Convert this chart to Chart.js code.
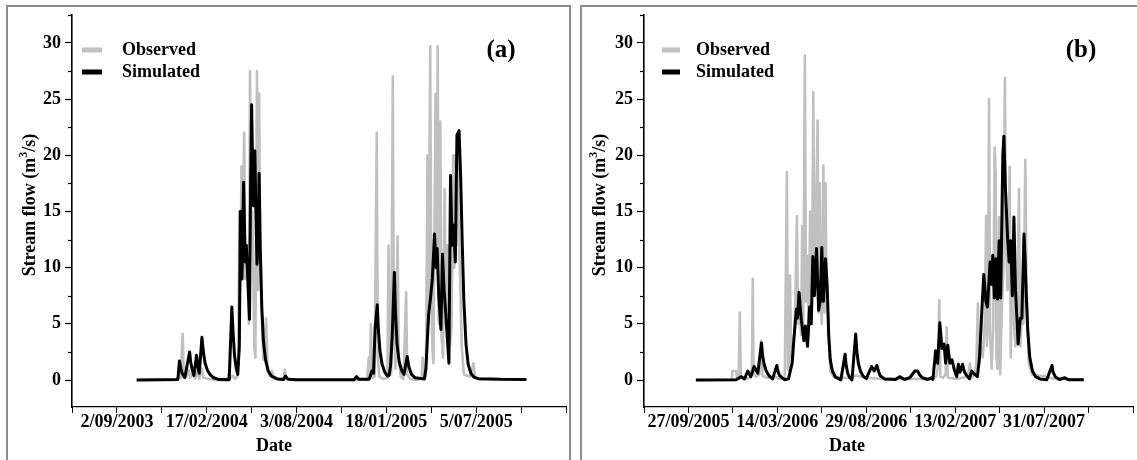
<!DOCTYPE html>
<html><head><meta charset="utf-8">
<script src="https://cdn.jsdelivr.net/npm/chart.js@4.4.0/dist/chart.umd.min.js"></script>
<style>
html,body{margin:0;padding:0;background:#fff;width:1137px;height:460px;overflow:hidden}
.wrap{position:absolute}
.frame{position:absolute;border:2px solid #8c8c8c;pointer-events:none}
</style></head><body>
<div class="wrap" style="left:0;top:0;width:570px;height:460px"><canvas id="ca"></canvas></div>
<div class="wrap" style="left:578px;top:0;width:559px;height:460px"><canvas id="cb"></canvas></div>
<div class="frame" style="left:6px;top:5px;width:561px;height:480px"></div>
<div class="frame" style="left:580px;top:5px;width:600px;height:480px"></div>
<script>
// x = days since axis start (panel a: 10/06/2003, panel b: 5/07/2005), y = stream flow (m3/s)
const tickDays = [84, 252, 420, 588, 756];
const tickLabelsA = ['2/09/2003', '17/02/2004', '3/08/2004', '18/01/2005', '5/07/2005'];
const tickLabelsB = ['27/09/2005', '14/03/2006', '29/08/2006', '13/02/2007', '31/07/2007'];
const yTicks = [0, 5, 10, 15, 20, 25, 30];
const seriesNames = ['Observed', 'Simulated'];

const obsA = [[121,0],[196,0],[199,0.3],[203,0.2],[207,4.1],[209,0.5],[214,0.3],[218,0.9],[221,0.2],[226,0.6],[230,0.1],[234,0.8],[238,0.1],[243,1.0],[246,0.2],[255,0.1],[270,0],[290,0],[293,0.5],[297,0.2],[301,0.4],[305,0.1],[309,0.3],[311,1.0],[313,15],[315,8],[317,19],[319,10],[322,22],[324,9],[327,12],[329,8],[331,5],[333,27.5],[335,14],[337,15],[339,10],[341,3],[343,2],[346,27.5],[348,8],[350,25.5],[352,12],[355,6],[358,1.8],[363,5.5],[366,1.0],[370,0.4],[374,0.8],[378,0.1],[396,0.1],[398,0.9],[401,0.1],[410,0],[552,0],[555,2.0],[557,0.1],[559,5.0],[562,0.2],[566,0.3],[570,22],[572,2],[575,0.3],[582,0.1],[590,0.2],[592,12],[594,3],[597,0.5],[600,27],[602,5],[605,1],[609,12.8],[611,2],[615,0.3],[620,0.1],[625,7.8],[627,0.5],[632,0.1],[645,0],[654,0.2],[656,2],[658,0.2],[662,0.3],[665,20],[667,5],[670,29.7],[672,8],[674,3],[676,1.5],[680,25.5],[682,10],[684,29.7],[686,5],[689,23],[691,4],[694,2],[697,17],[699,5],[702,12],[704,6],[707,3],[710,5],[713,20],[715,10],[717,20],[719,12],[721,21.5],[723,14],[726,9],[729,3],[733,0.5],[745,0.3],[751,1.5],[754,0.2],[760,0.1],[850,0.05]];

const simA = [[121,0],[198,0.05],[201,1.7],[203,1.2],[206,0.6],[211,0.2],[216,1.5],[220,2.5],[222,1.6],[225,0.9],[228,0.4],[233,2.2],[235,1.3],[238,0.6],[243,3.8],[246,2.4],[249,1.5],[253,0.9],[258,0.5],[265,0.2],[275,0.04],[294,0.02],[299,6.5],[301,4.5],[304,2.2],[307,1.1],[310,0.5],[313,3],[315,15.0],[318,9.0],[321,17.6],[324,10.5],[326,12.0],[328,10.0],[332,5.4],[334,17],[336,24.5],[339,15.5],[342,20.4],[344,15],[346,10.3],[348,12],[350,18.4],[352,12],[355,6.5],[358,3.5],[362,1.8],[367,0.8],[373,0.35],[384,0.1],[396,0.05],[399,0.35],[404,0.08],[420,0.03],[528,0.03],[532,0.3],[537,0.06],[556,0.08],[561,0.8],[564,0.6],[567,4.7],[571,6.7],[573,4.5],[576,2.6],[580,1.4],[585,0.7],[590,0.35],[593,0.4],[596,1.3],[599,4.0],[603,9.6],[605,6],[608,3.2],[612,1.6],[617,0.8],[621,0.5],[627,2.1],[630,1.2],[635,0.5],[642,0.2],[659,0.1],[662,1.0],[667,5.8],[671,7.5],[674,9],[678,13.0],[681,10],[683,11.7],[686,7.5],[690,4.5],[693,11.2],[696,8],[699,6],[705,1.5],[708,18.2],[711,12],[714,13.8],[717,10.5],[720,21.8],[724,22.2],[727,18],[730,12],[733,7],[737,3.2],[741,1.4],[746,0.6],[752,0.25],[760,0.12],[800,0.06],[850,0.05]];

const obsB = [[98,0],[166,0],[167,0.8],[174,0.8],[176,0.1],[179,0.2],[181,6.0],[183,0.3],[190,0.1],[200,0.2],[204,1],[205.5,9.0],[207,0.5],[212,0.3],[218,0.5],[221,3.5],[224,0.4],[232,0.2],[248,0.3],[255,0.1],[266,0.2],[270,18.5],[272,1],[274,0.8],[276,9.3],[278,2],[283,3],[286,7],[289,14.6],[291,5],[294,6],[297,4],[299,13.7],[301,5],[304,28.9],[306,7],[309,11],[311,4],[314,15],[317,5],[320,25.6],[322,8],[324,12],[326,17],[328,23.1],[330,6],[332,17.5],[334,7],[336,5],[339,19.1],[341,6],[343,17.5],[345,8],[348,5.5],[352,0.8],[358,0.3],[375,0.2],[390,0.2],[400,0.4],[420,0.2],[450,0.1],[545,0.1],[552,0.3],[555,1],[558,7.1],[560,0.3],[565,0.2],[570,0.5],[572,4.7],[574,0.2],[590,0.1],[612,0.3],[616,1.5],[618,0.2],[625,0.5],[628,1.5],[631,6.8],[633,1.5],[636,3],[640,2],[644,5],[646.5,14.6],[648,3],[650,6],[652,25],[654,4],[657,1],[660,5],[662.5,20.7],[664.5,18.5],[666,2],[668,1],[671,14.5],[673,0.5],[676,6],[679,10],[682,26.9],[684,12],[687,8],[691,19],[693,2],[696,10],[699,5],[702,3],[705,5],[708.5,17],[711,3],[714,6],[717,5],[720.5,19.6],[723,8],[727,1.5],[733,0.5],[745,0.4],[760,0.3],[775,0.1],[831,0.05]];

const simB = [[98,0],[174,0.02],[184,0.3],[190,0.1],[196,0.8],[202,0.3],[208,1.2],[215,0.6],[222,3.3],[224,2.2],[227,1.4],[231,0.8],[236,0.4],[243,0.1],[251,1.3],[253,0.8],[256,0.4],[266,0.02],[273,0.1],[280,1.5],[283,3.5],[288,6.3],[290,5.5],[293,7.8],[297,5.5],[302,3.5],[305,4.8],[309,3.0],[313,6.5],[316,5.0],[319,11.0],[322,7.5],[326,11.7],[330,6.2],[333,7.0],[336,11.8],[339,7.0],[343,10.8],[346,8.5],[349,4.0],[352,1.8],[356,0.8],[362,0.25],[372,0.02],[380,2.3],[382,1.3],[385,0.6],[389,0.2],[393,0.02],[400,4.1],[402,2.6],[405,1.5],[409,0.8],[414,0.35],[420,0.12],[430,1.2],[435,0.8],[440,1.3],[443,0.8],[446,0.4],[454,0.1],[475,0.05],[483,0.3],[492,0.05],[502,0.2],[512,0.8],[517,0.8],[521,0.45],[526,0.2],[536,0.05],[543,0.2],[546,0.05],[551,2.6],[555,1.5],[559,5.1],[563,2.8],[567,3.2],[570,1.5],[574,3.1],[578,1.5],[582,1.8],[587,0.8],[591,0.3],[594,1.4],[597,0.7],[602,1.4],[605,0.8],[608,0.5],[615,0.1],[619,0.8],[625,0.5],[630,0.3],[634,2.0],[638,5.8],[642,9.4],[646,7.0],[649,6.5],[654,10.5],[657,8.5],[659,11.1],[662,7.3],[665,10.8],[668,7.2],[671,12.4],[674,7.3],[678,20.0],[680,21.7],[683,17.0],[687,12.7],[690,10.5],[693,12.4],[696,7.5],[699,14.5],[702,8.0],[707,3.2],[711,5.5],[714,5.5],[718,13.0],[720,11],[722,8],[725,4.5],[729,2],[734,0.8],[740,0.3],[748,0.1],[761,0.02],[771,1.3],[773,0.7],[777,0.3],[785,0.05],[795,0.2],[802,0.02],[831,0.02]];

const FONT = '"Liberation Serif", "Times New Roman", serif';

function decorPlugin(p) {
  return {
    id: 'decor',
    afterDraw(chart) {
      const ctx = chart.ctx, ca = chart.chartArea, ys = chart.scales.y;
      ctx.save();
      // minor ticks on y axis
      ctx.strokeStyle = '#000'; ctx.lineWidth = 1.2;
      for (let v = 2.5; v <= 32.5; v += 5) {
        const y = Math.round(ys.getPixelForValue(v)) + 0.5;
        ctx.beginPath(); ctx.moveTo(ca.left - 4, y); ctx.lineTo(ca.left, y); ctx.stroke();
      }
      // legend
      const L = ca.left;
      ctx.fillStyle = '#c0c0c0'; ctx.fillRect(L + p.swL, 47.5, p.swW, 5);
      ctx.fillStyle = '#000'; ctx.fillRect(L + p.swL, 69.5, p.swW, 5);
      ctx.font = 'bold 18px ' + FONT; ctx.textBaseline = 'middle'; ctx.textAlign = 'left';
      ctx.fillText(seriesNames[0], L + p.txL, 50);
      ctx.fillText(seriesNames[1], L + p.txL, 72);
      // panel letter
      ctx.font = 'bold 25px ' + FONT; ctx.textAlign = 'center';
      ctx.fillText(p.letter, p.letterX, 51);
      // x title
      ctx.font = 'bold 18px ' + FONT;
      ctx.fillText('Date', p.dateX, 446);
      // y title with superscript
      ctx.translate(p.yTitleX, 205);
      ctx.rotate(-Math.PI / 2);
      const f1 = 'bold 18px ' + FONT, f2 = 'bold 12px ' + FONT;
      const a = 'Stream flow (m', b = '3', c = '/s)';
      ctx.font = f1; const wa = ctx.measureText(a).width, wc = ctx.measureText(c).width;
      ctx.font = f2; const wb = ctx.measureText(b).width;
      let x0 = -(wa + wb + wc) / 2;
      ctx.textAlign = 'left';
      ctx.font = f1; ctx.fillText(a, x0, 0);
      ctx.font = f2; ctx.fillText(b, x0 + wa, -6);
      ctx.font = f1; ctx.fillText(c, x0 + wa + wb, 0);
      ctx.restore();
    }
  };
}

function makeChart(id, obs, sim, labels, p) {
  const ctx = document.getElementById(id);
  return new Chart(ctx, {
    type: 'line',
    data: {
      datasets: [
        { label: seriesNames[1], data: sim.map(q => ({x: q[0], y: q[1]})), borderColor: '#000', borderWidth: 3, pointRadius: 0, tension: 0, borderJoinStyle: 'round', order: 0 },
        { label: seriesNames[0], data: obs.map(q => ({x: q[0], y: q[1]})), borderColor: '#c0c0c0', borderWidth: 2.6, pointRadius: 0, tension: 0, borderJoinStyle: 'round', order: 1 }
      ]
    },
    options: {
      responsive: true, maintainAspectRatio: false, animation: false, devicePixelRatio: 1, events: [],
      layout: { padding: { left: 0, right: p.padR, top: p.padT, bottom: 0 } },
      plugins: { legend: { display: false }, tooltip: { enabled: false } },
      scales: {
        x: {
          type: 'linear', min: 0, max: 924,
          afterBuildTicks: s => { const t = []; for (let v = 0; v <= 924; v += 84) t.push({ value: v }); s.ticks = t; },
          afterFit: s => { s.height = 53; },
          ticks: {
            autoSkip: false, maxRotation: 0, minRotation: 0, padding: -1, color: '#000',
            font: { family: FONT, weight: 'bold', size: 18 },
            callback: v => { const i = tickDays.indexOf(v); return i >= 0 ? labels[i] : ''; }
          },
          grid: { drawOnChartArea: false, tickLength: 6, tickColor: '#000', tickWidth: 1 },
          border: { color: '#000', width: 1.2 }
        },
        y: {
          min: -2.4, max: 32.5,
          afterBuildTicks: s => { s.ticks = yTicks.map(v => ({ value: v })); },
          afterFit: s => { s.width = p.yW; },
          ticks: { padding: 4, color: '#000', font: { family: FONT, weight: 'bold', size: 18 } },
          grid: { drawOnChartArea: false, tickLength: 7, tickColor: '#000', tickWidth: 1.2 },
          border: { color: '#000', width: 1.6 }
        }
      }
    },
    plugins: [decorPlugin(p)]
  });
}

makeChart('ca', obsA, simA, tickLabelsA, { padR: 4, padT: 12, yW: 72, swL: 10, swW: 20, txL: 50, letter: '(a)', letterX: 501, dateX: 274, yTitleX: 30 });
makeChart('cb', obsB, simB, tickLabelsB, { padR: 4, padT: 14, yW: 66, swL: 18, swW: 18, txL: 52, letter: '(b)', letterX: 1081 - 578, dateX: 269, yTitleX: 22 });
</script>
</body></html>
